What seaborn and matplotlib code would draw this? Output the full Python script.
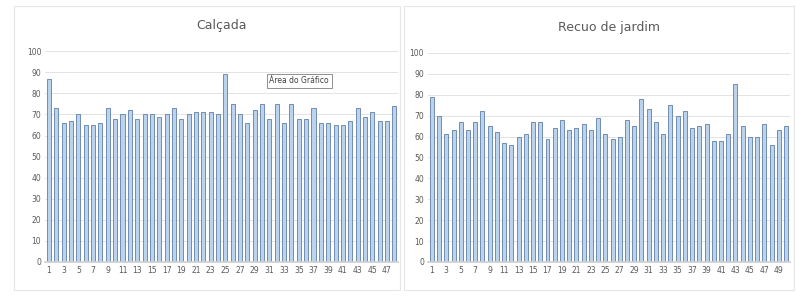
import seaborn as sns
import matplotlib.pyplot as plt
from matplotlib.patches import Rectangle

# Values
calcada = [87, 73, 66, 67, 70, 65, 65, 66, 73, 68, 70, 72, 68, 70, 70, 69,
           70, 73, 68, 70, 71, 71, 71, 70, 89, 75, 70, 66, 72, 75, 68, 75,
           66, 75, 68, 68, 73, 66, 66, 65, 65, 67, 73, 69, 71, 67, 67, 74]
recuo = [79, 70, 61, 63, 67, 63, 67, 72, 65, 62, 57, 56, 60, 61, 67, 67,
         59, 64, 68, 63, 64, 66, 63, 69, 61, 59, 60, 68, 65, 78, 73, 67,
         61, 75, 70, 72, 64, 65, 66, 58, 58, 61, 85, 65, 60, 60, 66, 56,
         63, 65]
titles = ["Calçada", "Recuo de jardim"]
y_ticks = list(range(0, 101, 10))

sns.set_theme(style="white")
plt.rcParams['font.family'] = ['DejaVu Sans']

fig = plt.figure(figsize=(7.96, 2.96), dpi=100)
# faint chart area frames, like the spreadsheet charts
for x0, w in [(0.018, 0.485), (0.508, 0.49)]:
    fig.patches.append(Rectangle((x0, 0.02), w, 0.96, transform=fig.transFigure,
                                 fill=False, edgecolor="#e6e6e6", lw=0.8))

axes = [fig.add_axes([0.057, 0.115, 0.443, 0.712]),
        fig.add_axes([0.538, 0.115, 0.454, 0.706])]

for ax, vals, title in zip(axes, [calcada, recuo], titles):
    labels = [str(i + 1) for i in range(len(vals))]
    sns.barplot(x=labels, y=vals, ax=ax, color="#bcd3ee", width=0.55,
                edgecolor="#5f7fa8", linewidth=0.6, saturation=1)
    ax.set_ylim(0, 100)
    ax.set_yticks(y_ticks)
    ax.set_xticks(range(0, len(vals), 2))
    ax.set_xticklabels(labels[::2])
    ax.tick_params(axis="both", labelsize=5.5, colors="#595959", length=0, pad=3)
    ax.yaxis.grid(True, color="#e3e3e3", lw=0.7)
    ax.set_axisbelow(True)
    for s in ["top", "right", "left"]:
        ax.spines[s].set_visible(False)
    ax.spines["bottom"].set_color("#d0d0d0")
    ax.set_xlabel("")
    ax.set_ylabel("")
    ax.set_title(title, fontsize=9, color="#595959", pad=16)

axes[0].text(0.72, 0.86, "Área do Gráfico", transform=axes[0].transAxes,
             fontsize=5.5, color="#404040", ha="center", va="center",
             bbox=dict(boxstyle="square,pad=0.35", fc="white", ec="#7f7f7f", lw=0.6))

fig.savefig("out.png", dpi=100)
